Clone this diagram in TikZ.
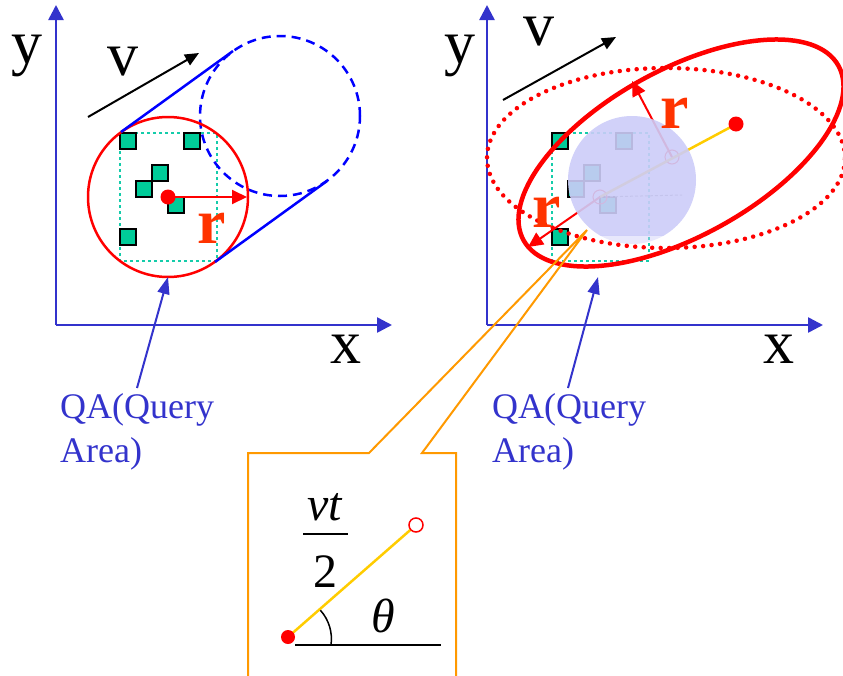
\documentclass[tikz,border=0pt]{standalone}
\usepackage{fontspec}
\setmainfont{Liberation Serif}
\usetikzlibrary{arrows.meta}
\definecolor{axisblue}{RGB}{51,51,204}
\definecolor{tealsq}{RGB}{0,204,153}
\definecolor{tealdot}{RGB}{20,204,170}
\definecolor{rlabel}{RGB}{255,51,0}
\definecolor{callout}{RGB}{255,153,0}
\definecolor{pathyellow}{RGB}{255,204,0}
\definecolor{diskfill}{RGB}{204,204,248}
\definecolor{puretblue}{RGB}{0,0,255}
\tikzset{
  axis/.style={draw=axisblue, line width=2.5pt, -{Triangle[length=15pt,width=15pt]}},
  sq/.style={fill=tealsq, draw=black, line width=1.5pt},
  qbox/.style={draw=tealdot, line width=2.6pt, dash pattern=on 2.6pt off 3.4pt},
  vel/.style={draw=black, line width=2pt, -{Triangle[length=14pt,width=12pt]}},
  rarrow/.style={draw=red, line width=2pt, -{Triangle[length=15pt,width=14pt]}},
  qaarrow/.style={draw=axisblue, line width=2pt, -{Triangle[length=17pt,width=12pt]}},
  axlbl/.style={font=\fontsize{62}{62}\selectfont, inner sep=0pt, anchor=base},
  rlbl/.style={text=rlabel, font=\fontsize{64}{64}\selectfont\bfseries, inner sep=0pt, anchor=base},
  qa/.style={text=axisblue, font=\fontsize{36}{44}\selectfont, inner sep=0pt, anchor=base west},
  mathlbl/.style={font=\fontsize{48}{48}\selectfont\itshape, inner sep=0pt, anchor=base},
}
\begin{document}
\begin{tikzpicture}[x=1pt, y=-1pt]
\useasboundingbox (0,0) rectangle (843,675);
\clip (0,0) rectangle (843,675);

% ---------------- left panel: circular query area ----------------
\coordinate (L0) at (56,325);
\coordinate (Ly) at (56,5);
\coordinate (Lx) at (392,325);
\draw[axis] (L0) -- (Ly);
\draw[axis] (L0) -- (Lx);
\node[axlbl] (ylabL) at (27,63) {y};
\node[axlbl] (xlabL) at (346,363) {x};

% query box and the objects inside it
\draw[qbox] (120,133) rectangle (217,261);
\foreach \px/\py in {120/133, 184/133, 152/165, 136/181, 168/197, 120/229}
  \draw[sq] (\px,\py) rectangle ++(16,16);

% current and future query circles with their tangents
\coordinate (LC) at (168,197);
\coordinate (DC) at (280,116);
\draw[puretblue, line width=2.5pt, dash pattern=on 9pt off 6pt] (DC) circle[radius=80pt];
\draw[red, line width=2.5pt] (LC) circle[radius=80pt];
\coordinate (t1a) at (121,132);
\coordinate (t1b) at (233,51);
\coordinate (t2a) at (215,262);
\coordinate (t2b) at (327,181);
\draw[puretblue, line width=2.5pt] (t1a) -- (t1b);
\draw[puretblue, line width=2.5pt] (t2a) -- (t2b);

% velocity
\coordinate (vL1) at (88,117);
\coordinate (vL2) at (199,53);
\draw[vel] (vL1) -- (vL2);
\node[axlbl] (vlabL) at (123,75) {v};

% radius
\coordinate (rL) at (247,197);
\draw[rarrow] (LC) -- (rL);
\fill[red] (LC) circle[radius=7.5pt];
\node[rlbl] (rlabL) at (212,243) {r};

% label
\coordinate (qaL0) at (137,388);
\coordinate (qaL1) at (168,277);
\draw[qaarrow] (qaL0) -- (qaL1);
\node[qa] (qaLa) at (60,418) {QA(Query};
\node[qa] (qaLb) at (60,462) {Area)};

% ---------------- right panel: elliptic query area ----------------
\coordinate (R0) at (487,325);
\coordinate (Ry) at (487,5);
\coordinate (Rx) at (823,325);
\draw[axis] (R0) -- (Ry);
\draw[axis] (R0) -- (Rx);
\node[axlbl] (ylabR) at (460,63) {y};
\node[axlbl] (xlabR) at (779,363) {x};

\begin{scope}[xshift=432pt]
  \draw[qbox] (120,133) rectangle (217,261);
  \foreach \px/\py in {120/133, 184/133, 152/165, 136/181, 168/197, 120/229}
    \draw[sq] (\px,\py) rectangle ++(16,16);
\end{scope}

\coordinate (C) at (600,197);
\coordinate (Q) at (672,157);
\coordinate (P) at (736,124);
\coordinate (Pend) at (742,121);
\coordinate (hb) at (682,195);
\draw[gray, line width=1pt, dash pattern=on 3pt off 2pt] (C) -- (hb);
\draw[red, line width=1pt] (C) circle[radius=7pt];
\draw[red, line width=1pt] (Q) circle[radius=7pt];
\draw[pathyellow, line width=2.5pt] (C) -- (Pend);
\coordinate (rR1) at (632,81);
\coordinate (rR2) at (528,247);
\draw[rarrow] (Q) -- (rR1);
\draw[rarrow] (C) -- (rR2);

% uncertainty disk over the box
\coordinate (DK) at (632,180);
\begin{scope}
  \clip (560,100) rectangle (700,235);
  \fill[diskfill, opacity=0.9] (DK) circle[radius=64pt];
\end{scope}
\begin{scope}
  \clip (560,235) rectangle (700,250);
  \fill[diskfill, opacity=0.45] (DK) circle[radius=64pt];
\end{scope}

% query ellipses
\coordinate (EM) at (666,158);
\draw[red, line width=4.5pt, line cap=round, dash pattern=on 0pt off 8.5pt] (EM) ellipse[x radius=179pt, y radius=90pt];
\coordinate (EC) at (681,153);
\begin{scope}[shift={(EC)}, rotate=29]
  \draw[red, line width=4.5pt] (0,0) ellipse[x radius=180pt, y radius=83pt];
\end{scope}
\fill[red] (P) circle[radius=7.5pt];

\node[rlbl] (rlabR1) at (675,128) {r};
\node[rlbl] (rlabR2) at (547,227) {r};

% velocity
\coordinate (vR1) at (503,100);
\coordinate (vR2) at (616,37);
\draw[vel] (vR1) -- (vR2);
\node[axlbl] (vlabR) at (539,45) {v};

% label
\coordinate (qaR0) at (568,388);
\coordinate (qaR1) at (598,277);
\draw[qaarrow] (qaR0) -- (qaR1);
\node[qa] (qaRa) at (492,418) {QA(Query};
\node[qa] (qaRb) at (492,462) {Area)};

% ---------------- callout with the motion parameters ----------------
\coordinate (cA) at (248,680);
\coordinate (cB) at (248,453);
\coordinate (cC) at (369,453);
\coordinate (cT) at (587,230);
\coordinate (cD) at (422,453);
\coordinate (cE) at (456,453);
\coordinate (cF) at (456,680);
\draw[callout, line width=2pt, line join=miter] (cA) -- (cB) -- (cC) -- (cT) -- (cD) -- (cE) -- (cF);

\coordinate (D) at (288,637);
\coordinate (O) at (416,525);
\draw[pathyellow, line width=2.5pt] (D) -- (O);
\draw[red, line width=1.5pt, fill=white] (O) circle[radius=7pt];
\fill[red] (D) circle[radius=7pt];
\coordinate (b1) at (295,645);
\coordinate (b2) at (441,645);
\draw[black, line width=2pt] (b1) -- (b2);
\coordinate (arc0) at (331,645);
\draw[black, line width=1.5pt] (arc0) arc[start angle=-8, end angle=42, radius=43pt];
\node[mathlbl] (theta) at (383,632) {θ};

\node[mathlbl] (vt) at (325,520) {vt};
\coordinate (f1) at (303,534);
\coordinate (f2) at (348,534);
\draw[black, line width=2pt] (f1) -- (f2);
\node[mathlbl, font=\fontsize{48}{48}\selectfont] (two) at (325,587) {2};
\end{tikzpicture}
\end{document}
